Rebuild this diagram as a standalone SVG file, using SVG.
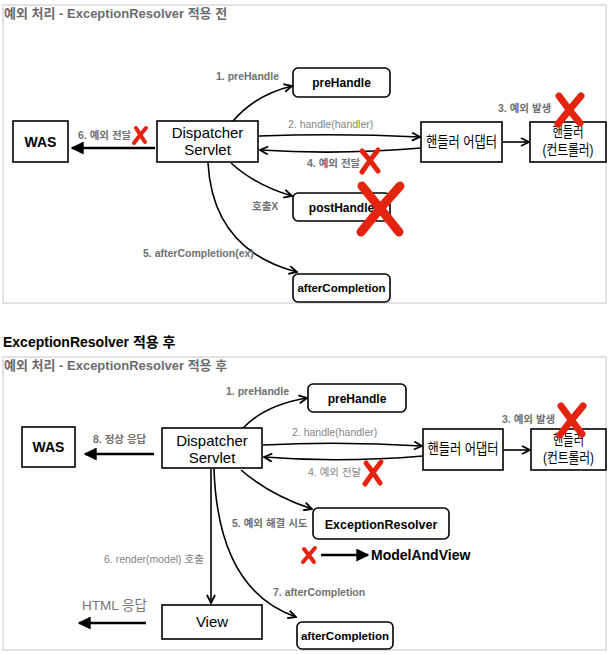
<svg xmlns="http://www.w3.org/2000/svg" width="611" height="655" viewBox="0 0 611 655">
<defs>
<style>
text{font-family:"Liberation Sans","Noto Sans CJK KR",sans-serif}
.frame{fill:#fff;stroke:#d9d9d9;stroke-width:1.5}
.box{fill:#fff;stroke:#000;stroke-width:1.6}
.title{font-size:13px;font-weight:bold;fill:#6b6b6b}
.lbl{font-size:10.5px;font-weight:bold;fill:#707070}
.lbl2{font-size:10.5px;fill:#858585}
.nt{font-size:15px;fill:#000;text-anchor:middle}
.nb{font-weight:bold;fill:#000;text-anchor:middle}
.con{fill:none;stroke:#000;stroke-width:1.6}
.thick{fill:none;stroke:#000;stroke-width:2.6}
.x{fill:none;stroke:#e5240f;stroke-linecap:round}
</style>
<marker id="open" viewBox="0 0 10 10" refX="9" refY="5" markerWidth="10" markerHeight="10" markerUnits="userSpaceOnUse" orient="auto">
<path d="M1,1 L9,5 L1,9" fill="none" stroke="#000" stroke-width="1.8"/>
</marker>
<marker id="fill" viewBox="0 0 10 10" refX="9" refY="5" markerWidth="5" markerHeight="5" orient="auto">
<path d="M0,0 L10,5 L0,10 z" fill="#000"/>
</marker>
</defs>

<rect class="frame" x="3" y="5" width="603" height="298"/>
<text class="title" x="4" y="18">예외 처리 - ExceptionResolver 적용 전</text>

<g id="connectors-top">
<path class="con" d="M233,121 Q255,95 292,86" marker-end="url(#open)"/>
<path class="con" d="M259,136 Q340,133 420,137" marker-end="url(#open)"/>
<path class="con" d="M421,148 Q340,155 260,150" marker-end="url(#open)"/>
<path class="con" d="M503,142 L529,142" marker-end="url(#open)"/>
<path class="con" d="M231,163 Q255,185 292,196" marker-end="url(#open)"/>
<path class="con" d="M208,163 Q213,250 297,272" marker-end="url(#open)"/>
<path class="thick" d="M155,148 L72,148" marker-end="url(#fill)"/>
<text class="lbl" x="216" y="80">1. preHandle</text>
<text class="lbl2" x="288" y="128">2. handle(handler)</text>
<text class="lbl" x="498" y="112">3. 예외 발생</text>
<text class="lbl" x="307" y="167">4. 예외 전달</text>
<text class="lbl" x="252" y="210">호출X</text>
<text class="lbl" x="143" y="257">5. afterCompletion(ex)</text>
<text class="lbl" x="78" y="139">6. 예외 전달</text>
</g>

<g id="top-was"><rect class="box" x="13" y="121" width="55" height="41"/><text class="nb" x="40.5" y="147" font-size="14">WAS</text></g>
<g id="top-dispatcher"><rect class="box" x="157" y="121" width="101" height="41"/><text class="nt" x="207.5" y="138">Dispatcher</text><text class="nt" x="207.5" y="155">Servlet</text></g>
<g id="top-prehandle"><rect class="box" x="293" y="68" width="97" height="29" rx="5"/><text class="nb" x="341.5" y="87" font-size="12">preHandle</text></g>
<g id="top-adapter"><rect class="box" x="421" y="122" width="81" height="40"/><text class="nt" x="461.5" y="147" font-size="13" textLength="71" lengthAdjust="spacingAndGlyphs">핸들러 어댑터</text></g>
<g id="top-handler"><rect class="box" x="530" y="122" width="76" height="40"/><text class="nt" x="568" y="137" font-size="13" textLength="31" lengthAdjust="spacingAndGlyphs">핸들러</text><text class="nt" x="568" y="155" font-size="13" textLength="51" lengthAdjust="spacingAndGlyphs">(컨트롤러)</text></g>
<g id="top-posthandle"><rect class="box" x="293" y="193" width="97" height="28" rx="5"/><text class="nb" x="341.5" y="212" font-size="12">postHandle</text></g>
<g id="top-aftercompletion"><rect class="box" x="293" y="274" width="97" height="28" rx="5"/><text class="nb" x="341.5" y="292" font-size="11.5">afterCompletion</text></g>

<g id="top-x-marks">
<path class="x" stroke-width="4" d="M136,128 Q141,136 145,142 M146,128 Q140,135 134,143"/>
<path class="x" stroke-width="5" d="M362,151 Q370,160 378,171 M378,150 Q370,160 362,172"/>
<path class="x" stroke-width="7" d="M559,96 Q569,110 580,123 M581,96 Q569,110 558,124"/>
<path class="x" stroke-width="9" d="M362,186 Q380,208 399,232 M400,186 Q380,208 361,232"/>
</g>

<text x="3" y="347" font-size="14" font-weight="bold" fill="#000">ExceptionResolver 적용 후</text>

<rect class="frame" x="3" y="357" width="603" height="293"/>
<text class="title" x="4" y="370">예외 처리 - ExceptionResolver 적용 후</text>

<g id="connectors-bottom">
<path class="con" d="M243,428 Q265,405 307,398" marker-end="url(#open)"/>
<path class="con" d="M263,445 Q340,441 422,446" marker-end="url(#open)"/>
<path class="con" d="M423,456 Q340,463 264,457" marker-end="url(#open)"/>
<path class="con" d="M504,450 L530,450" marker-end="url(#open)"/>
<path class="con" d="M241,470 Q270,495 312,509" marker-end="url(#open)"/>
<path class="con" d="M211,469 L211,603" marker-end="url(#open)"/>
<path class="con" d="M214,469 Q218,590 296,617" marker-end="url(#open)"/>
<path class="thick" d="M154,454 L85,454" marker-end="url(#fill)"/>
<path class="thick" d="M146,623 L79,623" marker-end="url(#fill)"/>
<path class="thick" d="M321,555 L368,555" marker-end="url(#fill)"/>
<text class="lbl" x="226" y="395">1. preHandle</text>
<text class="lbl2" x="292" y="436">2. handle(handler)</text>
<text class="lbl" x="502" y="423">3. 예외 발생</text>
<text class="lbl2" x="308" y="476">4. 예외 전달</text>
<text class="lbl" x="232" y="527">5. 예외 해결 시도</text>
<text class="lbl2" x="104" y="563">6. render(model) 호출</text>
<text class="lbl" x="273" y="596">7. afterCompletion</text>
<text class="lbl" x="93" y="443">8. 정상 응답</text>
<text x="82" y="610" font-size="13.5" fill="#777">HTML 응답</text>
</g>

<g id="bot-was"><rect class="box" x="22" y="427" width="53" height="40"/><text class="nb" x="48.5" y="452" font-size="14">WAS</text></g>
<g id="bot-dispatcher"><rect class="box" x="162" y="428" width="100" height="40"/><text class="nt" x="212" y="446">Dispatcher</text><text class="nt" x="212" y="463">Servlet</text></g>
<g id="bot-prehandle"><rect class="box" x="308" y="384" width="98" height="28" rx="5"/><text class="nb" x="357" y="403" font-size="12">preHandle</text></g>
<g id="bot-adapter"><rect class="box" x="423" y="429" width="80" height="41"/><text class="nt" x="463" y="454" font-size="13" textLength="71" lengthAdjust="spacingAndGlyphs">핸들러 어댑터</text></g>
<g id="bot-handler"><rect class="box" x="531" y="429" width="75" height="41"/><text class="nt" x="568.5" y="445" font-size="13" textLength="31" lengthAdjust="spacingAndGlyphs">핸들러</text><text class="nt" x="568.5" y="463" font-size="13" textLength="51" lengthAdjust="spacingAndGlyphs">(컨트롤러)</text></g>
<g id="bot-exceptionresolver"><rect class="box" x="313" y="508" width="136" height="31" rx="5"/><text class="nb" x="381" y="529" font-size="12.5">ExceptionResolver</text></g>
<g id="bot-modelandview"><text x="371" y="560" font-size="14" font-weight="bold" fill="#000">ModelAndView</text></g>
<g id="bot-view"><rect class="box" x="162" y="605" width="100" height="34"/><text class="nt" x="212" y="627" font-size="13">View</text></g>
<g id="bot-aftercompletion"><rect class="box" x="297" y="622" width="96" height="27" rx="5"/><text class="nb" x="345" y="640" font-size="11.5">afterCompletion</text></g>

<g id="bot-x-marks">
<path class="x" stroke-width="7" d="M561,406 Q571,420 582,434 M583,406 Q571,420 560,435"/>
<path class="x" stroke-width="5" d="M366,463 Q373,472 380,483 M381,462 Q373,472 365,484"/>
<path class="x" stroke-width="4" d="M304,549 Q309,555 314,562 M315,548 Q309,555 303,562"/>
</g>
</svg>
